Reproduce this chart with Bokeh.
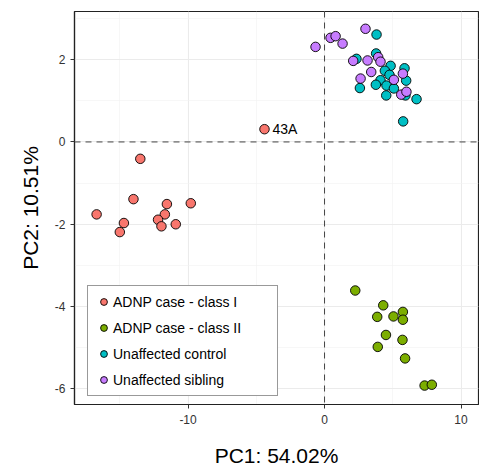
from bokeh.plotting import figure
from bokeh.models import FixedTicker, Span, Legend, LegendItem, Range1d, ColumnDataSource
from bokeh.core.properties import value
from bokeh.embed import file_html
from bokeh.resources import INLINE

# ---- data ----
groups = ["ADNP case - class I", "ADNP case - class II", "Unaffected control", "Unaffected sibling"]
colors = ["#F8766D", "#7CAE00", "#00BFC4", "#C77CFF"]

class1_pc1 = [-13.5, -14.0, -16.7, -14.7, -15.0, -11.55, -9.8, -11.7, -12.2, -11.95, -10.9, -4.4]
class1_pc2 = [-0.41, -1.39, -1.76, -1.97, -2.19, -1.51, -1.49, -1.76, -1.89, -2.05, -2.0, 0.31]
class1_lab = ["", "", "", "", "", "", "", "", "", "", "", "43A"]

class2_pc1 = [2.25, 4.3, 3.86, 5.05, 5.74, 5.74, 4.5, 3.9, 5.71, 5.9, 7.33, 7.86]
class2_pc2 = [-3.61, -3.97, -4.25, -4.24, -4.13, -4.32, -4.69, -4.98, -4.81, -5.26, -5.92, -5.9]

control_pc1 = [3.81, 2.34, 3.78, 4.84, 4.42, 4.76, 5.86, 5.98, 4.1, 3.76, 4.54, 5.08, 2.59, 4.52, 5.93, 6.74, 5.76]
control_pc2 = [2.61, 2.02, 2.15, 1.85, 1.73, 1.63, 1.79, 1.49, 1.50, 1.39, 1.37, 1.30, 1.31, 1.13, 1.13, 1.04, 0.50]

sibling_pc1 = [-0.66, 0.44, 0.81, 1.32, 3.0, 2.1, 3.15, 3.93, 4.1, 3.42, 2.64, 5.08, 5.74, 5.62, 6.0]
sibling_pc2 = [2.31, 2.53, 2.57, 2.39, 2.75, 1.97, 1.98, 2.06, 1.95, 1.70, 1.54, 1.51, 1.66, 1.15, 1.22]

x_ticks = [-10, 0, 10]
x_tick_labels = ["-10", "0", "10"]
x_minor = [-15, -5, 5]
y_ticks = [-6, -4, -2, 0, 2]
y_tick_labels = ["-6", "-4", "-2", "0", "2"]
y_minor = [-5, -3, -1, 1, 3]

FONT = "Liberation Sans"

p = figure(width=479, height=469,
           x_range=Range1d(-18.32, 11.28), y_range=Range1d(-6.38, 3.17),
           output_backend="svg", toolbar_location=None,
           min_border_left=74, min_border_right=1, min_border_top=11, min_border_bottom=61,
           background_fill_color="white", border_fill_color="white")

p.outline_line_color = "#222222"
p.outline_line_width = 1.2

# grid
for g in (p.xgrid, p.ygrid):
    g.grid_line_color = "#ebebeb"
    g.grid_line_width = 1.1
    g.minor_grid_line_color = "#f2f2f2"
    g.minor_grid_line_width = 0.6
p.xaxis.ticker = FixedTicker(ticks=x_ticks, minor_ticks=x_minor)
p.yaxis.ticker = FixedTicker(ticks=y_ticks, minor_ticks=y_minor)
p.xgrid.ticker = p.xaxis.ticker
p.ygrid.ticker = p.yaxis.ticker
p.xaxis.major_label_overrides = dict(zip(x_ticks, x_tick_labels))
p.yaxis.major_label_overrides = dict(zip(y_ticks, y_tick_labels))

for ax in (p.xaxis, p.yaxis):
    ax.axis_line_color = "#222222"
    ax.axis_line_width = 1.2
    ax.major_tick_line_color = "#333333"
    ax.major_tick_out = 4
    ax.major_tick_in = 0
    ax.minor_tick_line_color = None
    ax.major_label_text_font = FONT
    ax.major_label_text_font_size = "12px"
    ax.major_label_text_color = "#333333"
    ax.axis_label_text_font = FONT
    ax.axis_label_text_font_size = "21px"
    ax.axis_label_text_font_style = "normal"
    ax.axis_label_text_color = "black"

p.xaxis.axis_label = "PC1: 54.02%"
p.yaxis.axis_label = "PC2: 10.51%"
p.xaxis.major_label_standoff = 6
p.yaxis.major_label_standoff = 5
p.xaxis.axis_label_standoff = 17
p.yaxis.axis_label_standoff = 10

# reference lines
p.add_layout(Span(location=0, dimension="height", line_color="#444444", line_width=1, line_dash="6 5"))
p.add_layout(Span(location=0, dimension="width", line_color="#444444", line_width=1, line_dash="6 5"))

series = [
    (class1_pc1, class1_pc2),
    (class2_pc1, class2_pc2),
    (control_pc1, control_pc2),
    (sibling_pc1, sibling_pc2),
]

items = []
for (xs, ys), name, col in zip(series, groups, colors):
    r = p.scatter(xs, ys, size=9.5, fill_color=col, line_color="black", line_width=0.9, marker="circle")
    items.append(LegendItem(label=name, renderers=[r]))

# label for outlier sample
lab_src = ColumnDataSource(dict(x=class1_pc1, y=class1_pc2, t=class1_lab))
p.text(x="x", y="y", text="t", source=lab_src, x_offset=8, text_baseline="middle", text_align="left",
       text_font=value(FONT), text_font_size="14px", text_color="black")

legend = Legend(items=items, location=(13, 8))
legend.label_text_font = FONT
legend.label_text_font_size = "14px"
legend.label_text_color = "black"
legend.glyph_width = 17
legend.glyph_height = 17
legend.label_height = 17
legend.label_width = 157
legend.spacing = 9
legend.padding = 7
legend.margin = 0
legend.label_standoff = 1
legend.border_line_color = "#333333"
legend.border_line_width = 1
legend.background_fill_color = "white"
legend.background_fill_alpha = 1
p.add_layout(legend)

open("out.html", "w").write(file_html(p, INLINE))
